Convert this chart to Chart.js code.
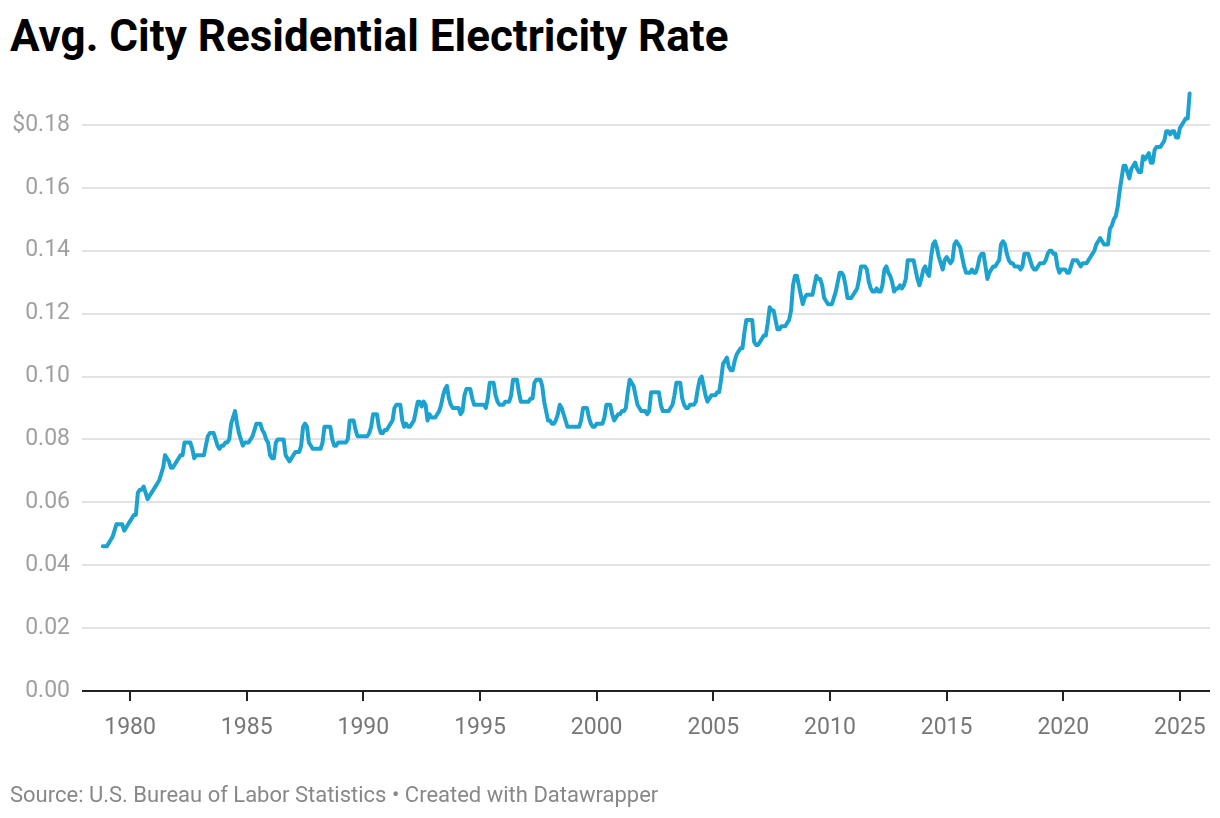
<!DOCTYPE html>
<html>
<head>
<meta charset="utf-8">
<title>Avg. City Residential Electricity Rate</title>
<script src="https://cdn.jsdelivr.net/npm/chart.js@4.4.1/dist/chart.umd.min.js"></script>
<style>
  html, body { margin: 0; padding: 0; background: #fff; }
  #wrap { position: relative; width: 1220px; height: 818px; overflow: hidden; font-family: Roboto, sans-serif; }
  h1 { position: absolute; left: 10px; top: 10px; margin: 0; font-size: 44px; line-height: 52px; font-weight: 700; color: #000; }
  .source { position: absolute; left: 10px; top: 782px; font-size: 22px; line-height: 26px; color: #888; }
  #chartBox { position: absolute; left: 0; top: 0; width: 1220px; height: 818px; }
</style>
</head>
<body>
<div id="wrap">
  <h1>Avg. City Residential Electricity Rate</h1>
  <div id="chartBox"><canvas id="rateChart"></canvas></div>
  <div class="source">Source: U.S. Bureau of Labor Statistics • Created with Datawrapper</div>
</div>
<script>
// monthly average price, $ per kWh, first value = Nov 1978
const startYear = 1978;
const startMonth = 11;
const rates = [
  /* 1978 */ 0.046, 0.046,
  /* 1979 */ 0.046, 0.047, 0.048, 0.049, 0.051, 0.053, 0.053, 0.053, 0.053, 0.051, 0.052, 0.053,
  /* 1980 */ 0.054, 0.055, 0.056, 0.056, 0.063, 0.064, 0.064, 0.065, 0.063, 0.061, 0.062, 0.063,
  /* 1981 */ 0.064, 0.065, 0.066, 0.067, 0.069, 0.071, 0.075, 0.074, 0.073, 0.071, 0.071, 0.072,
  /* 1982 */ 0.073, 0.074, 0.075, 0.075, 0.079, 0.079, 0.079, 0.079, 0.077, 0.074, 0.075, 0.075,
  /* 1983 */ 0.075, 0.075, 0.075, 0.078, 0.081, 0.082, 0.082, 0.082, 0.080, 0.078, 0.077, 0.078,
  /* 1984 */ 0.078, 0.079, 0.079, 0.080, 0.085, 0.087, 0.089, 0.085, 0.082, 0.080, 0.078, 0.079,
  /* 1985 */ 0.079, 0.079, 0.080, 0.081, 0.083, 0.085, 0.085, 0.085, 0.083, 0.082, 0.080, 0.079,
  /* 1986 */ 0.075, 0.074, 0.074, 0.079, 0.080, 0.080, 0.080, 0.080, 0.075, 0.074, 0.073, 0.074,
  /* 1987 */ 0.075, 0.076, 0.076, 0.076, 0.078, 0.084, 0.085, 0.084, 0.079, 0.078, 0.077, 0.077,
  /* 1988 */ 0.077, 0.077, 0.077, 0.079, 0.084, 0.084, 0.084, 0.084, 0.080, 0.078, 0.078, 0.079,
  /* 1989 */ 0.079, 0.079, 0.079, 0.079, 0.080, 0.086, 0.086, 0.086, 0.083, 0.081, 0.081, 0.081,
  /* 1990 */ 0.081, 0.081, 0.081, 0.082, 0.084, 0.088, 0.088, 0.088, 0.084, 0.082, 0.082, 0.083,
  /* 1991 */ 0.083, 0.084, 0.085, 0.086, 0.090, 0.091, 0.091, 0.091, 0.086, 0.084, 0.085, 0.084,
  /* 1992 */ 0.084, 0.085, 0.086, 0.089, 0.092, 0.092, 0.0905, 0.092, 0.091, 0.086, 0.088, 0.087,
  /* 1993 */ 0.087, 0.087, 0.088, 0.089, 0.091, 0.094, 0.096, 0.097, 0.093, 0.091, 0.090, 0.090,
  /* 1994 */ 0.090, 0.090, 0.088, 0.089, 0.094, 0.096, 0.096, 0.096, 0.093, 0.091, 0.091, 0.091,
  /* 1995 */ 0.091, 0.091, 0.091, 0.090, 0.093, 0.098, 0.098, 0.098, 0.094, 0.092, 0.091, 0.091,
  /* 1996 */ 0.091, 0.092, 0.092, 0.092, 0.094, 0.099, 0.099, 0.099, 0.095, 0.092, 0.092, 0.092,
  /* 1997 */ 0.092, 0.092, 0.093, 0.093, 0.098, 0.099, 0.099, 0.099, 0.097, 0.092, 0.089, 0.086,
  /* 1998 */ 0.086, 0.085, 0.085, 0.086, 0.088, 0.091, 0.090, 0.088, 0.086, 0.084, 0.084, 0.084,
  /* 1999 */ 0.084, 0.084, 0.084, 0.084, 0.086, 0.090, 0.090, 0.090, 0.087, 0.085, 0.084, 0.084,
  /* 2000 */ 0.085, 0.085, 0.085, 0.085, 0.087, 0.091, 0.091, 0.091, 0.088, 0.086, 0.087, 0.088,
  /* 2001 */ 0.088, 0.089, 0.089, 0.090, 0.095, 0.099, 0.098, 0.097, 0.094, 0.091, 0.090, 0.089,
  /* 2002 */ 0.089, 0.089, 0.088, 0.089, 0.095, 0.095, 0.095, 0.095, 0.095, 0.091, 0.089, 0.089,
  /* 2003 */ 0.089, 0.089, 0.090, 0.091, 0.094, 0.098, 0.098, 0.098, 0.093, 0.091, 0.090, 0.090,
  /* 2004 */ 0.091, 0.091, 0.091, 0.092, 0.096, 0.099, 0.100, 0.097, 0.094, 0.092, 0.093, 0.094,
  /* 2005 */ 0.094, 0.094, 0.095, 0.095, 0.099, 0.104, 0.105, 0.106, 0.103, 0.102, 0.102, 0.105,
  /* 2006 */ 0.107, 0.108, 0.109, 0.109, 0.114, 0.118, 0.118, 0.118, 0.118, 0.111, 0.110, 0.110,
  /* 2007 */ 0.111, 0.112, 0.113, 0.113, 0.117, 0.122, 0.121, 0.121, 0.118, 0.115, 0.115, 0.116,
  /* 2008 */ 0.116, 0.116, 0.117, 0.118, 0.121, 0.129, 0.132, 0.132, 0.129, 0.126, 0.123, 0.125,
  /* 2009 */ 0.126, 0.126, 0.126, 0.126, 0.129, 0.132, 0.131, 0.131, 0.129, 0.125, 0.124, 0.123,
  /* 2010 */ 0.123, 0.123, 0.125, 0.127, 0.130, 0.133, 0.133, 0.132, 0.129, 0.125, 0.125, 0.125,
  /* 2011 */ 0.126, 0.127, 0.128, 0.131, 0.135, 0.135, 0.135, 0.134, 0.130, 0.128, 0.127, 0.127,
  /* 2012 */ 0.128, 0.127, 0.127, 0.129, 0.134, 0.135, 0.133, 0.132, 0.130, 0.127, 0.128, 0.128,
  /* 2013 */ 0.129, 0.128, 0.129, 0.131, 0.137, 0.137, 0.137, 0.137, 0.134, 0.131, 0.129, 0.131,
  /* 2014 */ 0.134, 0.135, 0.133, 0.132, 0.138, 0.142, 0.143, 0.141, 0.138, 0.136, 0.134, 0.137,
  /* 2015 */ 0.138, 0.137, 0.136, 0.137, 0.142, 0.143, 0.142, 0.141, 0.138, 0.135, 0.133, 0.133,
  /* 2016 */ 0.133, 0.134, 0.133, 0.133, 0.135, 0.138, 0.139, 0.139, 0.135, 0.131, 0.133, 0.134,
  /* 2017 */ 0.135, 0.135, 0.136, 0.137, 0.142, 0.143, 0.142, 0.139, 0.137, 0.136, 0.136, 0.135,
  /* 2018 */ 0.135, 0.135, 0.134, 0.135, 0.139, 0.139, 0.139, 0.137, 0.135, 0.134, 0.134, 0.135,
  /* 2019 */ 0.136, 0.136, 0.136, 0.137, 0.139, 0.140, 0.140, 0.139, 0.139, 0.135, 0.133, 0.134,
  /* 2020 */ 0.134, 0.134, 0.133, 0.133, 0.135, 0.137, 0.137, 0.137, 0.136, 0.135, 0.136, 0.136,
  /* 2021 */ 0.136, 0.137, 0.138, 0.139, 0.140, 0.142, 0.143, 0.144, 0.143, 0.142, 0.142, 0.142,
  /* 2022 */ 0.147, 0.148, 0.150, 0.151, 0.154, 0.159, 0.163, 0.167, 0.167, 0.165, 0.163, 0.166,
  /* 2023 */ 0.167, 0.168, 0.166, 0.165, 0.165, 0.170, 0.169, 0.170, 0.171, 0.168, 0.168, 0.172,
  /* 2024 */ 0.173, 0.173, 0.173, 0.174, 0.175, 0.178, 0.178, 0.177, 0.178, 0.178, 0.176, 0.176,
  /* 2025 */ 0.179, 0.180, 0.181, 0.182, 0.182, 0.190
];

const xTicks = [1980, 1985, 1990, 1995, 2000, 2005, 2010, 2015, 2020, 2025];
const yTicks = [0, 0.02, 0.04, 0.06, 0.08, 0.10, 0.12, 0.14, 0.16, 0.18];

// month index -> decimal year
const points = rates.map((v, i) => ({
  x: startYear + (startMonth - 1 + i) / 12,
  y: v
}));

new Chart(document.getElementById('rateChart'), {
  type: 'line',
  data: {
    datasets: [{
      label: 'Avg. price',
      data: points,
      borderColor: '#1ca2cf',
      borderWidth: 4,
      borderJoinStyle: 'round',
      borderCapStyle: 'round',
      pointRadius: 0,
      tension: 0,
      fill: false
    }]
  },
  options: {
    responsive: true,
    maintainAspectRatio: false,
    animation: false,
    layout: { padding: { left: 10, right: 10, top: 62, bottom: 65 } },
    plugins: { legend: { display: false }, tooltip: { enabled: false } },
    scales: {
      x: {
        type: 'linear',
        min: 1977.94,
        max: 2026.29,
        afterBuildTicks: s => { s.ticks = xTicks.map(v => ({ value: v })); },
        afterFit: s => { s.height = 62; },
        border: { display: false },
        grid: { drawOnChartArea: false, drawTicks: true, tickLength: 10, color: '#222', lineWidth: 2 },
        ticks: {
          callback: v => String(v),
          color: '#777',
          padding: 13,
          maxRotation: 0,
          font: { family: 'Roboto', size: 23 }
        }
      },
      y: {
        min: 0,
        max: 0.2,
        afterBuildTicks: s => { s.ticks = yTicks.map(v => ({ value: v })); },
        afterFit: s => { s.width = 72; },
        border: { display: false },
        grid: {
          drawTicks: false,
          color: c => c.tick && c.tick.value === 0 ? '#222' : '#e3e3e3',
          lineWidth: 2
        },
        ticks: {
          callback: (v, i) => (i === yTicks.length - 1 ? '$' : '') + v.toFixed(2),
          color: '#a0a0a0',
          padding: 12,
          font: { family: 'Roboto', size: 23 }
        }
      }
    }
  }
});
</script>
</body>
</html>
